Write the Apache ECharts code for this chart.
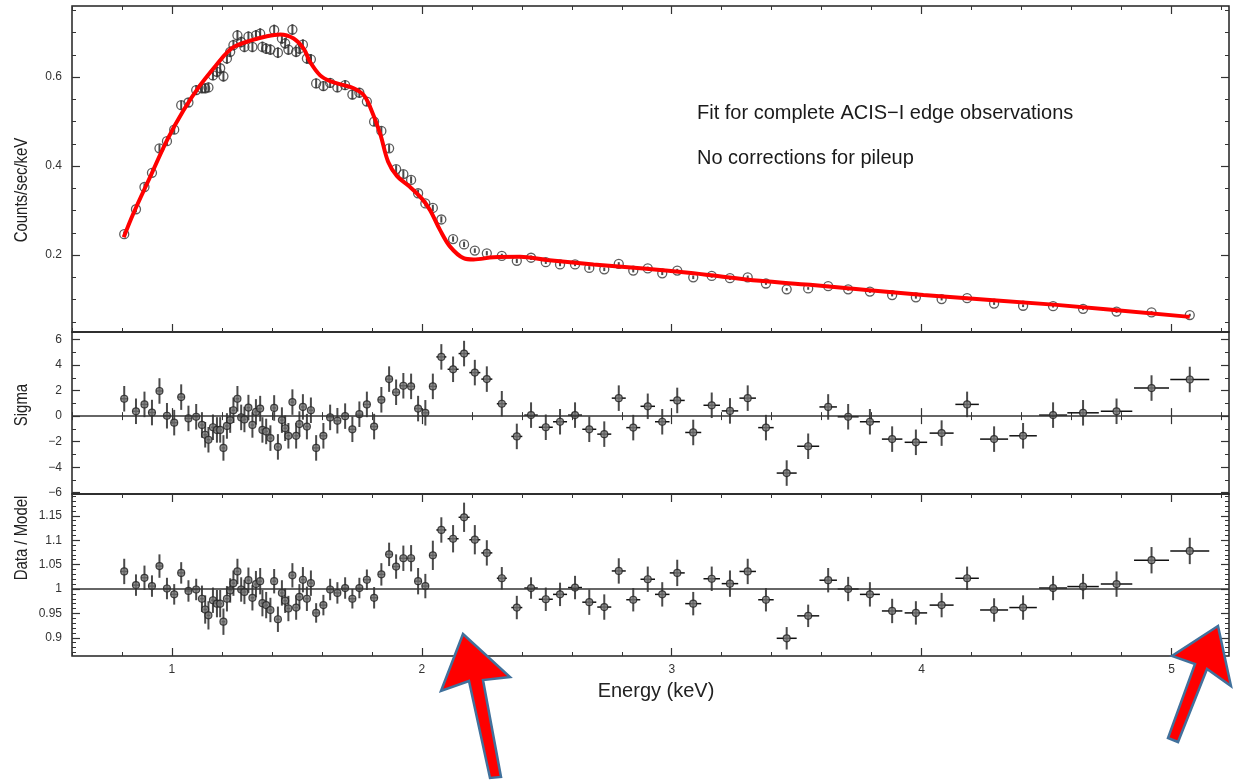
<!DOCTYPE html>
<html>
<head>
<meta charset="utf-8">
<script src="https://cdn.jsdelivr.net/npm/echarts@6/dist/echarts.min.js"></script>
<style>
    html, body { margin: 0; padding: 0; background: #fff; }
    #chart { width: 1233px; height: 782px; }
</style>
</head>
<body>
<div id="chart"></div>
<script>
// energy bins (keV) shared by the three panels
var energy = [0.809,0.856,0.89,0.92,0.95,0.98,1.009,1.037,1.066,1.097,
    1.12,1.133,1.146,1.164,1.18,1.193,1.206,1.22,1.233,1.246,
    1.262,1.277,1.29,1.306,1.322,1.336,1.353,1.362,1.377,1.394,
    1.409,1.424,1.44,1.453,1.466,1.482,1.497,1.51,1.524,1.54,
    1.556,1.577,1.606,1.633,1.662,1.693,1.722,1.75,1.78,1.809,
    1.838,1.869,1.897,1.926,1.957,1.985,2.014,2.044,2.078,2.125,
    2.169,2.212,2.26,2.32,2.38,2.437,2.496,2.553,2.613,2.67,
    2.73,2.788,2.846,2.904,2.962,3.022,3.086,3.16,3.233,3.304,
    3.377,3.46,3.546,3.626,3.706,3.793,3.882,3.977,4.08,4.182,
    4.29,4.406,4.526,4.646,4.78,4.92,5.073];
var binHalf = [0.014,0.014,0.014,0.014,0.014,0.014,0.014,0.014,0.014,0.008,
    0.007,0.007,0.007,0.007,0.007,0.007,0.007,0.007,0.007,0.007,
    0.007,0.007,0.007,0.007,0.007,0.007,0.007,0.007,0.007,0.007,
    0.007,0.007,0.007,0.007,0.007,0.007,0.007,0.007,0.007,0.007,
    0.008,0.012,0.014,0.014,0.014,0.014,0.014,0.014,0.014,0.014,
    0.014,0.014,0.014,0.014,0.014,0.014,0.014,0.015,0.02,0.022,
    0.022,0.022,0.022,0.02,0.022,0.027,0.028,0.028,0.028,0.028,
    0.028,0.028,0.028,0.029,0.029,0.03,0.032,0.033,0.033,0.033,
    0.031,0.04,0.044,0.035,0.042,0.04,0.041,0.045,0.048,0.047,
    0.056,0.055,0.056,0.063,0.063,0.07,0.078];
var counts = [0.247,0.303,0.353,0.385,0.44,0.456,0.482,0.537,0.543,0.571,
    0.575,0.575,0.577,0.604,0.612,0.62,0.602,0.642,0.657,0.672,
    0.694,0.679,0.668,0.691,0.668,0.694,0.698,0.668,0.664,0.662,
    0.706,0.655,0.687,0.676,0.662,0.707,0.657,0.664,0.673,0.642,
    0.64,0.586,0.58,0.587,0.577,0.582,0.561,0.565,0.545,0.5,
    0.479,0.44,0.393,0.382,0.369,0.339,0.316,0.306,0.28,0.236,
    0.224,0.21,0.204,0.198,0.187,0.194,0.184,0.179,0.179,0.171,
    0.168,0.18,0.165,0.17,0.159,0.165,0.15,0.153,0.148,0.15,
    0.136,0.123,0.125,0.13,0.123,0.118,0.11,0.105,0.101,0.103,
    0.091,0.086,0.085,0.079,0.073,0.071,0.065];
var countErr = [0.006,0.007,0.008,0.008,0.009,0.009,0.01,0.01,0.01,0.011,
    0.011,0.011,0.011,0.011,0.012,0.012,0.012,0.012,0.012,0.012,
    0.012,0.012,0.012,0.012,0.012,0.012,0.012,0.012,0.012,0.012,
    0.012,0.012,0.012,0.012,0.012,0.012,0.012,0.012,0.012,0.012,
    0.012,0.011,0.011,0.011,0.011,0.011,0.011,0.011,0.01,0.01,
    0.01,0.009,0.009,0.009,0.008,0.008,0.007,0.007,0.007,0.006,
    0.006,0.005,0.005,0.005,0.005,0.005,0.004,0.004,0.004,0.004,
    0.004,0.004,0.004,0.004,0.004,0.004,0.004,0.004,0.004,0.004,
    0.003,0.003,0.003,0.003,0.003,0.003,0.003,0.003,0.003,0.003,
    0.003,0.003,0.003,0.003,0.003,0.003,0.003];
var sigma = [1.36,0.38,0.92,0.28,1.97,0.03,-0.51,1.49,-0.18,-0.05,
    -0.69,-1.46,-1.85,-0.87,-1.08,-1.08,-2.49,-0.77,-0.31,0.46,
    1.36,-0.1,-0.26,0.67,-0.69,0.33,0.59,-1.08,-1.2,-1.72,
    0.64,-2.41,-0.31,-0.95,-1.54,1.1,-1.54,-0.62,0.72,-0.82,
    0.46,-2.49,-1.54,-0.1,-0.36,0,-1.03,0.15,0.92,-0.82,
    1.28,2.9,1.87,2.38,2.33,0.59,0.26,2.33,4.64,3.67,
    4.9,3.41,2.9,0.97,-1.59,0.08,-0.87,-0.44,0.08,-1.03,
    -1.41,1.41,-0.9,0.77,-0.44,1.23,-1.28,0.85,0.41,1.41,
    -0.9,-4.46,-2.36,0.72,-0.05,-0.44,-1.8,-2.05,-1.33,0.92,
    -1.8,-1.54,0.08,0.26,0.38,2.2,2.87];
var ratio = [1.036,1.008,1.023,1.006,1.047,1.001,0.989,1.033,0.996,0.999,
    0.98,0.958,0.946,0.977,0.97,0.97,0.933,0.98,0.997,1.012,
    1.036,0.999,0.994,1.018,0.982,1.01,1.016,0.971,0.967,0.957,
    1.016,0.938,0.992,0.976,0.96,1.028,0.962,0.984,1.019,0.98,
    1.012,0.951,0.967,0.999,0.992,1.002,0.98,1.002,1.019,0.982,
    1.03,1.071,1.046,1.063,1.063,1.016,1.006,1.069,1.121,1.103,
    1.147,1.101,1.074,1.022,0.962,1.002,0.979,0.989,1.003,0.973,
    0.963,1.037,0.978,1.02,0.989,1.033,0.97,1.021,1.011,1.036,
    0.978,0.899,0.945,1.018,1.0,0.989,0.955,0.951,0.967,1.022,
    0.957,0.962,1.002,1.005,1.01,1.059,1.078];
var ratioErr = [0.026,0.022,0.025,0.022,0.024,0.022,0.021,0.022,0.022,0.022,
    0.027,0.029,0.029,0.026,0.028,0.028,0.027,0.026,0.025,0.026,
    0.026,0.025,0.025,0.026,0.026,0.027,0.027,0.027,0.027,0.025,
    0.025,0.026,0.026,0.025,0.026,0.025,0.025,0.026,0.026,0.025,
    0.026,0.02,0.021,0.022,0.022,0.022,0.02,0.021,0.021,0.022,
    0.023,0.024,0.025,0.026,0.027,0.027,0.025,0.03,0.026,0.028,
    0.03,0.03,0.026,0.023,0.024,0.022,0.024,0.024,0.024,0.026,
    0.026,0.026,0.024,0.026,0.025,0.027,0.024,0.025,0.027,0.026,
    0.024,0.023,0.023,0.025,0.025,0.025,0.025,0.024,0.025,0.024,
    0.024,0.025,0.025,0.026,0.026,0.027,0.027];

// fitted model curve
var modelE = [0.807,0.846,0.913,0.98,1.047,1.113,1.193,1.22,1.247,1.313,
    1.38,1.433,1.487,1.527,1.553,1.593,1.633,1.687,1.727,1.767,
    1.793,1.833,1.865,1.9,1.953,2.0,2.033,2.073,2.113,2.167,
    2.207,2.287,2.393,2.5,2.687,2.887,3.087,3.353,3.553,4.007,
    4.54,5.073];
var modelVal = [0.24,0.294,0.376,0.458,0.526,0.582,0.638,0.655,0.668,0.682,
    0.692,0.696,0.687,0.664,0.634,0.604,0.591,0.582,0.575,0.56,
    0.533,0.473,0.41,0.378,0.353,0.327,0.301,0.256,0.219,0.193,
    0.19,0.195,0.196,0.189,0.179,0.17,0.159,0.142,0.133,0.11,
    0.088,0.061];

// tick positions
var xMajor = [1, 2, 3, 4, 5];
var xMinor = [0.6,0.8,1.2,1.4,1.6,1.8,2.2,2.4,2.6,2.8,3.2,3.4,3.6,3.8,4.2,4.4,4.6,4.8,5.2];
var countTicks = [0.2, 0.4, 0.6];
var countMinor = [0.05,0.1,0.15,0.25,0.3,0.35,0.45,0.5,0.55,0.65,0.7,0.75];
var sigmaTicks = [-6, -4, -2, 0, 2, 4, 6];
var sigmaMinor = [-5,-3,-1,1,3,5];
var ratioTicks = [0.9, 0.95, 1, 1.05, 1.1, 1.15];
var ratioMinor = [0.87,0.88,0.89,0.91,0.92,0.93,0.94,0.96,0.97,0.98,0.99,1.01,1.02,1.03,1.04,
    1.06,1.07,1.08,1.09,1.11,1.12,1.13,1.14,1.16,1.17,1.18,1.19];

var FONT = "'Liberation Sans', Arial, sans-serif";
var X_MIN = 0.6, X_MAX = 5.23;
var LEFT = 72, RIGHT = 4;
var panels = [
    {top: 6, height: 326, min: 0.027, max: 0.76, ticks: countTicks, minor: countMinor},
    {top: 332, height: 162, min: -6.1, max: 6.59, ticks: sigmaTicks, minor: sigmaMinor},
    {top: 494, height: 162, min: 0.8627, max: 1.1947, ticks: ratioTicks, minor: ratioMinor}
];

var myChart = echarts.init(document.getElementById('chart'));

function makeXAxes(gridIndex, withLabels){
    var list = [];
    var positions = ['bottom', 'top'];
    for(var p = 0; p < positions.length; p++){
        var isBottom = positions[p] == 'bottom';
        list.push({
            type: 'value', gridIndex: gridIndex, position: positions[p],
            min: X_MIN, max: X_MAX,
            axisLine: {show: false},
            splitLine: {show: false},
            axisTick: {show: true, inside: true, length: 8, customValues: xMajor, lineStyle: {color: '#333', width: 1.2}},
            axisLabel: {
                show: withLabels && isBottom, customValues: xMajor, margin: 8,
                fontFamily: FONT, fontSize: 12, color: '#333'
            }
        });
        list.push({
            type: 'value', gridIndex: gridIndex, position: positions[p],
            min: X_MIN, max: X_MAX,
            axisLine: {show: false},
            splitLine: {show: false},
            axisTick: {show: true, inside: true, length: 4, customValues: xMinor, lineStyle: {color: '#333', width: 1}},
            axisLabel: {show: false}
        });
    }
    return list;
}

function makeYAxes(gridIndex, panel){
    var list = [];
    var positions = ['left', 'right'];
    for(var p = 0; p < positions.length; p++){
        var isLeft = positions[p] == 'left';
        list.push({
            type: 'value', gridIndex: gridIndex, position: positions[p],
            min: panel.min, max: panel.max,
            axisLine: {show: false},
            splitLine: {show: false},
            axisTick: {show: true, inside: true, length: 8, customValues: panel.ticks, lineStyle: {color: '#333', width: 1.2}},
            axisLabel: {
                show: isLeft, customValues: panel.ticks, margin: 10,
                fontFamily: FONT, fontSize: 12, color: '#333',
                formatter: function(v){
                    return String(v).replace('-', '\u2212');
                }
            }
        });
        list.push({
            type: 'value', gridIndex: gridIndex, position: positions[p],
            min: panel.min, max: panel.max,
            axisLine: {show: false},
            splitLine: {show: false},
            axisTick: {show: true, inside: true, length: 4, customValues: panel.minor, lineStyle: {color: '#333', width: 1}},
            axisLabel: {show: false}
        });
    }
    return list;
}

// error bar cross: [x, y, xHalf, yHalf]
function renderErr(params, api){
    var x = api.value(0), y = api.value(1), dx = api.value(2), dy = api.value(3);
    var c = api.coord([x, y]);
    var l = api.coord([x - dx, y]);
    var r = api.coord([x + dx, y]);
    var t = api.coord([x, y + dy]);
    var b = api.coord([x, y - dy]);
    var children = [
        {type: 'line', shape: {x1: c[0], y1: t[1], x2: c[0], y2: b[1]}, style: {stroke: '#4a4a4a', lineWidth: 2}}
    ];
    if(dx > 0){
        children.push({type: 'line', shape: {x1: l[0], y1: c[1], x2: r[0], y2: c[1]}, style: {stroke: '#111', lineWidth: 1.5}});
    }
    return {type: 'group', children: children};
}

// axis titles, narrowed like the original plot font
function axisTitle(text, x, y, vertical){
    return {
        type: 'text', x: x, y: y, z: 50,
        rotation: vertical ? Math.PI / 2 : 0,
        scaleX: vertical ? 0.83 : 1,
        style: {text: text, font: (vertical ? '18px ' : '20px ') + FONT, fill: '#222', align: 'center', verticalAlign: 'middle'}
    };
}

var grids = [], xAxes = [], yAxes = [];
for(var g = 0; g < panels.length; g++){
    grids.push({
        left: LEFT, right: RIGHT, top: panels[g].top, height: panels[g].height,
        show: true, borderColor: '#222', borderWidth: 1.5, backgroundColor: 'transparent'
    });
    xAxes = xAxes.concat(makeXAxes(g, g == panels.length - 1));
    yAxes = yAxes.concat(makeYAxes(g, panels[g]));
}

var countPts = [], countBars = [], sigmaPts = [], sigmaBars = [], ratioPts = [], ratioBars = [], modelPts = [];
for(var i = 0; i < energy.length; i++){
    countPts.push([energy[i], counts[i]]);
    countBars.push([energy[i], counts[i], 0, countErr[i]]);
    sigmaPts.push([energy[i], sigma[i]]);
    sigmaBars.push([energy[i], sigma[i], binHalf[i], 1]);
    ratioPts.push([energy[i], ratio[i]]);
    ratioBars.push([energy[i], ratio[i], binHalf[i], ratioErr[i]]);
}
for(var m = 0; m < modelE.length; m++){
    modelPts.push([modelE[m], modelVal[m]]);
}

function refLine(value){
    return {
        silent: true, symbol: 'none', animation: false,
        label: {show: false},
        lineStyle: {color: '#333', width: 1.5, type: 'solid'},
        data: [{yAxis: value}]
    };
}

var option = {
    backgroundColor: '#fff',
    animation: false,
    grid: grids,
    xAxis: xAxes,
    yAxis: yAxes,
    series: [
        {
            type: 'custom', xAxisIndex: 0, yAxisIndex: 0, renderItem: renderErr,
            encode: {x: 0, y: 1}, data: countBars, z: 2
        },
        {
            type: 'scatter', xAxisIndex: 0, yAxisIndex: 0, data: countPts,
            symbol: 'circle', symbolSize: 9,
            itemStyle: {color: 'rgba(255,255,255,0)', borderColor: '#333', borderWidth: 1.3}, z: 3
        },
        {
            type: 'line', xAxisIndex: 0, yAxisIndex: 0, data: modelPts,
            smooth: 0.35, showSymbol: false,
            lineStyle: {color: '#ff0000', width: 4}, z: 5
        },
        {
            type: 'custom', xAxisIndex: 4, yAxisIndex: 4, renderItem: renderErr,
            encode: {x: 0, y: 1}, data: sigmaBars, z: 2
        },
        {
            type: 'scatter', xAxisIndex: 4, yAxisIndex: 4, data: sigmaPts,
            symbol: 'circle', symbolSize: 7,
            itemStyle: {color: '#777', borderColor: '#222', borderWidth: 1.2}, z: 3,
            markLine: refLine(0)
        },
        {
            type: 'custom', xAxisIndex: 8, yAxisIndex: 8, renderItem: renderErr,
            encode: {x: 0, y: 1}, data: ratioBars, z: 2
        },
        {
            type: 'scatter', xAxisIndex: 8, yAxisIndex: 8, data: ratioPts,
            symbol: 'circle', symbolSize: 7,
            itemStyle: {color: '#777', borderColor: '#222', borderWidth: 1.2}, z: 3,
            markLine: refLine(1)
        }
    ],
    graphic: [
        axisTitle('Counts/sec/keV', 22, 190, true),
        axisTitle('Sigma', 22, 405, true),
        axisTitle('Data / Model', 22, 538, true),
        axisTitle('Energy (keV)', 656, 691, false),
        {
            type: 'text', left: 697, top: 103,
            style: {text: 'Fit for complete ACIS\u2212I edge observations', font: '20px ' + FONT, fill: '#1a1a1a'}
        },
        {
            type: 'text', left: 697, top: 148,
            style: {text: 'No corrections for pileup', font: '20px ' + FONT, fill: '#1a1a1a'}
        },
        // annotation arrows
        {
            type: 'polygon', z: 100,
            shape: {points: [[463,634],[510,677],[483,680],[501,777],[490,778],[469,681],[441,691]]},
            style: {fill: '#ff0000', stroke: '#41719c', lineWidth: 2.5}
        },
        {
            type: 'polygon', z: 100,
            shape: {points: [[1218,626],[1231,686],[1207,669],[1178,742],[1168,738],[1195,664],[1172,656]]},
            style: {fill: '#ff0000', stroke: '#41719c', lineWidth: 2.5}
        }
    ]
};

myChart.setOption(option);
window.onresize = myChart.resize;
</script>
</body>
</html>
